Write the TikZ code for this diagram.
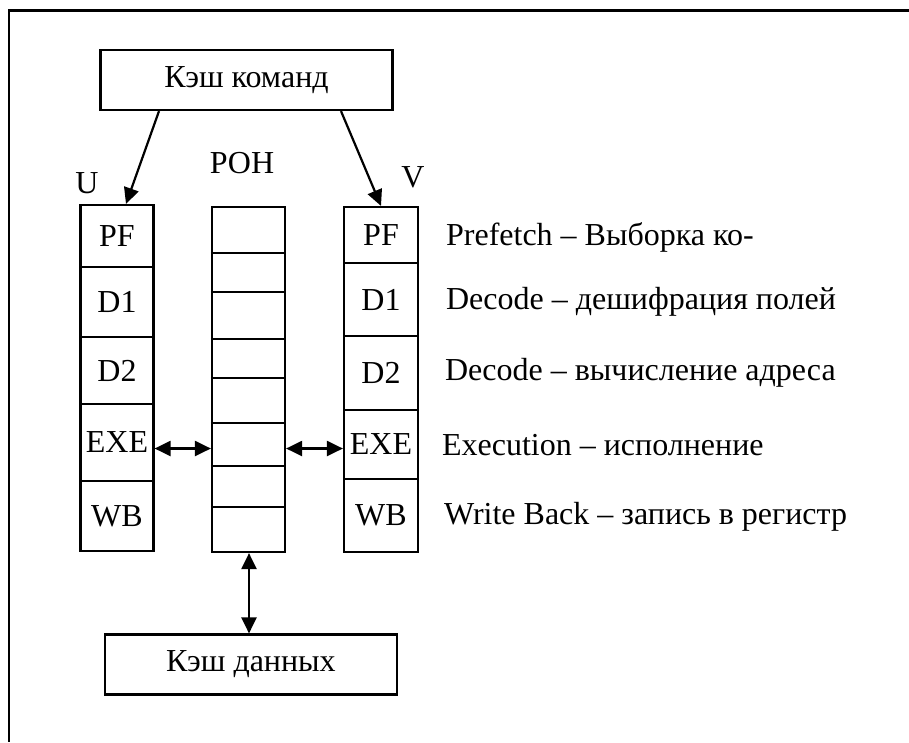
\documentclass[tikz,border=0pt]{standalone}
\usepackage{fontspec}
\setmainfont{Liberation Serif}
\usetikzlibrary{arrows.meta,positioning}

\begin{document}
\begin{tikzpicture}[x=1pt, y=-1pt, line width=2.2pt,
    font=\fontsize{32}{37}\selectfont,
    >={Triangle[length=16pt, width=15pt]},
    cache/.style = {rectangle, draw, minimum width=292pt, minimum height=60pt, inner sep=0pt},
    cell/.style = {rectangle, draw, inner sep=0pt},
    desc/.style = {anchor=west, inner sep=0pt}]
  \useasboundingbox (0,0) rectangle (909,742);
  \draw (909,10.5) -- (9,10.5) -- (9,742);

  \node[cache] (icache) at (246.5,80) {Кэш команд};
  \node[cache] (dcache) at (251,664.5) {Кэш данных};

  % pipeline U
  \foreach \s/\ya/\yb in {PF/205/267, D1/267/337, D2/337/404, EXE/404/481, WB/481/551}
    \node[cell, minimum width=73pt, minimum height={(\yb-\ya)*1pt}] (u\s) at (117,{(\ya+\yb)/2}) {\s};
  % pipeline V
  \foreach \s/\ya/\yb in {PF/207/263, D1/263/336, D2/336/410, EXE/410/479, WB/479/552}
    \node[cell, minimum width=74pt, minimum height={(\yb-\ya)*1pt}] (v\s) at (381,{(\ya+\yb)/2}) {\s};

  % register file
  \node[cell, minimum width=73pt, minimum height=345pt] (ron) at (248.5,379.5) {};
  \foreach \yy in {253,292,339,378,423,466,507}
    \draw (ron.west |- 0,\yy) -- (ron.east |- 0,\yy);

  \node (ulab) at (87,183) {U};
  \node (vlab) at (413,177) {V};
  \node (ronlab) at (242,163) {РОН};

  \node[desc] (dPF) at (445,237) {Prefetch – Выборка ко-};
  \node[desc] (dD1) at (445,302) {Decode – дешифрация полей};
  \node[desc] (dD2) at (444,373) {Decode – вычисление адреса};
  \node[desc] (dEXE) at (441,445) {Execution – исполнение};
  \node[desc] (dWB) at (443,517) {Write Back – запись в регистр};

  \path[->]
    ([xshift=-87.5pt]icache.south) edge ([xshift=9pt]uPF.north)
    ([xshift=94.5pt]icache.south) edge (vPF.north);
  \path[<->]
    ([yshift=-6pt]uEXE.east) edge ([yshift=-6pt]uEXE.east -| ron.west)
    ([yshift=-4pt]vEXE.west -| ron.east) edge ([yshift=-4pt]vEXE.west)
    ([xshift=0.5pt]ron.south) edge ([xshift=0.5pt]ron.south |- dcache.north);
\end{tikzpicture}
\end{document}
